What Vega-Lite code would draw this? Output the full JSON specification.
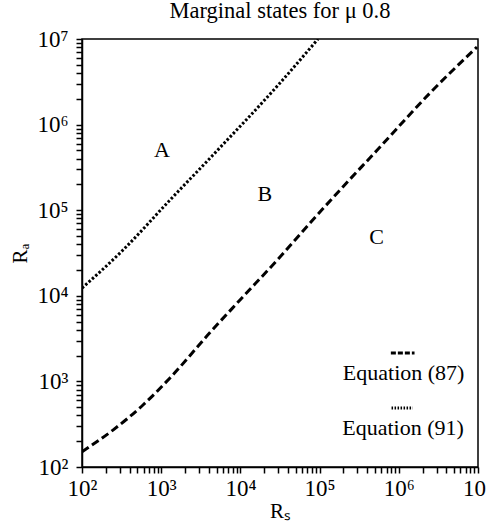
{
  "$schema": "https://vega.github.io/schema/vega-lite/v6.json",
  "width": 396,
  "height": 428,
  "autosize": {"type": "none"},
  "padding": {"left": 82, "top": 39, "right": 8, "bottom": 62},
  "background": "white",
  "view": {"stroke": "black", "strokeWidth": 1.5},
  "config": {"font": "Liberation Serif"},
  "title": {"text": "Marginal states for μ 0.8", "font": "Liberation Serif", "fontSize": 22.5, "fontWeight": "normal", "color": "black", "offset": 6},
  "datasets": {
    "curves": [
      {"eq": "87", "rs": 100, "ra": 151},
      {"eq": "87", "rs": 246, "ra": 270},
      {"eq": "87", "rs": 589, "ra": 530},
      {"eq": "87", "rs": 1291, "ra": 1096},
      {"eq": "87", "rs": 4130, "ra": 3724},
      {"eq": "87", "rs": 9886, "ra": 8933},
      {"eq": "87", "rs": 31623, "ra": 28380},
      {"eq": "87", "rs": 75680, "ra": 70790},
      {"eq": "87", "rs": 181100, "ra": 172200},
      {"eq": "87", "rs": 530900, "ra": 501000},
      {"eq": "87", "rs": 2477000, "ra": 2339000},
      {"eq": "87", "rs": 9705000, "ra": 8072000},
      {"eq": "91", "rs": 100, "ra": 12300},
      {"eq": "91", "rs": 330, "ra": 34300},
      {"eq": "91", "rs": 1291, "ra": 131500},
      {"eq": "91", "rs": 4508, "ra": 441600},
      {"eq": "91", "rs": 31620, "ra": 3062000},
      {"eq": "91", "rs": 95500, "ra": 10000000}
    ],
    "regions": [
      {"label": "A", "rs": 1020, "ra": 500000},
      {"label": "B", "rs": 20400, "ra": 155000},
      {"label": "C", "rs": 525000, "ra": 48000}
    ],
    "legendSym": [
      {"eq": "87", "x1": 794000, "x2": 1580000, "ra": 2148},
      {"eq": "91", "x1": 810000, "x2": 1500000, "ra": 490}
    ],
    "legendText": [
      {"label": "Equation (87)", "rs": 1150000, "ra": 1259},
      {"label": "Equation (91)", "rs": 1130000, "ra": 286}
    ]
  },
  "layer": [
    {
      "data": {"name": "curves"},
      "mark": {"type": "line", "color": "black", "strokeWidth": 3, "clip": true, "interpolate": "monotone"},
      "encoding": {
        "x": {
          "field": "rs", "type": "quantitative", "title": "Rₛ",
          "scale": {"type": "log", "domain": [100, 10000000], "nice": false},
          "axis": {
            "values": [100,200,300,400,500,600,700,800,900,1000,2000,3000,4000,5000,6000,7000,8000,9000,10000,20000,30000,40000,50000,60000,70000,80000,90000,100000,200000,300000,400000,500000,600000,700000,800000,900000,1000000,2000000,3000000,4000000,5000000,6000000,7000000,8000000,9000000,10000000],
            "labelExpr": "abs(log(datum.value)/LN10 - round(log(datum.value)/LN10)) < 0.000001 ? '10' + ['⁰','¹','²','³','⁴','⁵','⁶','⁷'][round(log(datum.value)/LN10)] : ''",
            "labelOverlap": false,
            "labelFlush": false,
            "labelFont": "Liberation Serif",
            "labelFontSize": 23,
            "labelColor": "black",
            "labelPadding": 4,
            "ticks": true,
            "tickColor": "black",
            "tickSize": 6,
            "tickWidth": 1.5,
            "domainColor": "black",
            "domainWidth": 1.5,
            "grid": false,
            "titleFont": "Liberation Serif",
            "titleFontSize": 21,
            "titleFontWeight": "normal",
            "titleColor": "black",
            "titlePadding": 0
          }
        },
        "y": {
          "field": "ra", "type": "quantitative", "title": "Rₐ",
          "scale": {"type": "log", "domain": [100, 10000000], "nice": false},
          "axis": {
            "values": [100,200,300,400,500,600,700,800,900,1000,2000,3000,4000,5000,6000,7000,8000,9000,10000,20000,30000,40000,50000,60000,70000,80000,90000,100000,200000,300000,400000,500000,600000,700000,800000,900000,1000000,2000000,3000000,4000000,5000000,6000000,7000000,8000000,9000000,10000000],
            "labelExpr": "abs(log(datum.value)/LN10 - round(log(datum.value)/LN10)) < 0.000001 ? '10' + ['⁰','¹','²','³','⁴','⁵','⁶','⁷'][round(log(datum.value)/LN10)] : ''",
            "labelOverlap": false,
            "labelFlush": false,
            "labelFont": "Liberation Serif",
            "labelFontSize": 23,
            "labelColor": "black",
            "labelPadding": 8,
            "ticks": true,
            "tickColor": "black",
            "tickSize": 6,
            "tickWidth": 1.5,
            "domainColor": "black",
            "domainWidth": 1.5,
            "grid": false,
            "titleFont": "Liberation Serif",
            "titleFontSize": 21,
            "titleFontWeight": "normal",
            "titleColor": "black",
            "titlePadding": 6
          }
        },
        "detail": {"field": "eq"},
        "strokeDash": {
          "field": "eq", "type": "nominal", "legend": null,
          "scale": {"domain": ["87", "91"], "range": [[8, 4], [2.5, 2]]}
        }
      }
    },
    {
      "data": {"name": "regions"},
      "mark": {"type": "text", "font": "Liberation Serif", "fontSize": 22, "color": "black"},
      "encoding": {
        "x": {"field": "rs", "type": "quantitative"},
        "y": {"field": "ra", "type": "quantitative"},
        "text": {"field": "label"}
      }
    },
    {
      "data": {"name": "legendSym"},
      "mark": {"type": "rule", "color": "black", "strokeWidth": 3},
      "encoding": {
        "x": {"field": "x1", "type": "quantitative"},
        "x2": {"field": "x2"},
        "y": {"field": "ra", "type": "quantitative"},
        "strokeDash": {
          "field": "eq", "type": "nominal", "legend": null,
          "scale": {"domain": ["87", "91"], "range": [[5, 2], [1.5, 1.5]]}
        }
      }
    },
    {
      "data": {"name": "legendText"},
      "mark": {"type": "text", "font": "Liberation Serif", "fontSize": 22, "color": "black"},
      "encoding": {
        "x": {"field": "rs", "type": "quantitative"},
        "y": {"field": "ra", "type": "quantitative"},
        "text": {"field": "label"}
      }
    }
  ],
  "resolve": {"scale": {"strokeDash": "independent"}}
}
